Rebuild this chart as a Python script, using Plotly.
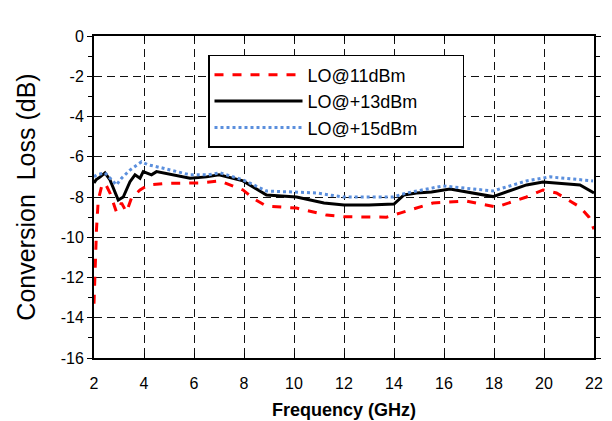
import plotly.graph_objects as go

# LO@11dBm (red dashed)
freq_11 = [2.0, 2.05, 2.1, 2.17, 2.3, 2.44, 2.64, 2.9, 3.1, 3.3, 3.5, 3.84, 4.17, 4.9, 5.5,
           6.24, 7.04, 7.96, 8.4, 8.9, 10.1, 11.3, 12.0, 13.7, 14.24, 14.9, 15.56, 16.9,
           18.1, 19.3, 19.96, 20.5, 21.44, 21.8, 22.0]
loss_11 = [-13.3, -11.0, -9.6, -8.15, -7.5, -7.3, -7.8, -8.75, -8.3, -8.75, -8.05, -7.65, -7.4,
           -7.32, -7.3, -7.3, -7.2, -7.65, -8.1, -8.45, -8.55, -8.9, -8.98, -9.0, -8.8, -8.55,
           -8.3, -8.2, -8.5, -8.0, -7.65, -7.8, -8.5, -9.0, -9.6]

# LO@+13dBm (black solid)
freq_13 = [2.0, 2.08, 2.25, 2.44, 2.64, 2.97, 3.17, 3.44, 3.64, 3.84, 3.97, 4.3, 4.5, 5.17,
           5.84, 6.5, 7.0, 7.96, 8.9, 10.1, 11.2, 12.0, 13.0, 14.0, 14.4, 14.9, 15.5, 16.24,
           17.96, 19.3, 19.96, 21.44, 22.0]
loss_13 = [-7.3, -7.15, -7.0, -6.8, -7.15, -8.15, -8.0, -7.24, -6.9, -7.07, -6.74, -6.9, -6.74,
           -6.9, -7.07, -7.0, -6.9, -7.2, -7.9, -8.0, -8.3, -8.4, -8.4, -8.35, -7.9, -7.8,
           -7.75, -7.6, -7.98, -7.4, -7.25, -7.4, -7.8]

# LO@+15dBm (blue dotted)
freq_15 = [2.0, 2.1, 2.44, 2.9, 3.1, 3.44, 3.9, 4.17, 4.77, 5.84, 6.56, 7.04, 7.96, 8.9,
           10.9, 11.96, 13.96, 14.5, 15.96, 17.96, 19.3, 20.24, 21.96]
loss_15 = [-7.0, -6.9, -6.8, -7.4, -7.07, -6.66, -6.25, -6.4, -6.57, -6.9, -6.9, -6.8, -7.15,
           -7.7, -7.8, -8.0, -8.0, -7.8, -7.45, -7.7, -7.2, -7.0, -7.2]

series_names = ["LO@11dBm", "LO@+13dBm", "LO@+15dBm"]
x_ticks = [2, 4, 6, 8, 10, 12, 14, 16, 18, 20, 22]
y_ticks = [0, -2, -4, -6, -8, -10, -12, -14, -16]

FONT = "Liberation Sans, Arial"
# invisible trailing spacer so the legend box is as wide as in the original
PAD = '<span style="color:rgba(0,0,0,0)">........</span>'

fig = go.Figure()
fig.add_trace(go.Scatter(x=freq_11, y=loss_11, mode="lines", name=series_names[0] + PAD,
                         hovertemplate="%{x}, %{y}<extra>" + series_names[0] + "</extra>",
                         line=dict(color="#ff0000", width=3, dash="dash")))
fig.add_trace(go.Scatter(x=freq_13, y=loss_13, mode="lines", name=series_names[1] + PAD,
                         hovertemplate="%{x}, %{y}<extra>" + series_names[1] + "</extra>",
                         line=dict(color="#000000", width=3)))
fig.add_trace(go.Scatter(x=freq_15, y=loss_15, mode="lines", name=series_names[2] + PAD,
                         hovertemplate="%{x}, %{y}<extra>" + series_names[2] + "</extra>",
                         line=dict(color="#5b8fdd", width=3, dash="dot")))

axis_common = dict(showline=True, linecolor="black", linewidth=2, mirror="ticks",
                   showgrid=True, gridcolor="#111111", gridwidth=1.3, griddash="8px,5px",
                   zeroline=False, tickfont=dict(family=FONT, size=16, color="black"),
                   tickcolor="black", automargin=False)

fig.update_xaxes(range=[2, 22], tickvals=x_ticks, ticktext=[str(v) for v in x_ticks],
                 ticks="inside", ticklen=5, ticklabelstandoff=10,
                 title=dict(text="<b>Frequency (GHz)</b>", font=dict(family=FONT, size=18, color="black"), standoff=12),
                 **axis_common)
fig.update_yaxes(range=[-16, 0], tickvals=y_ticks, ticktext=[str(v) for v in y_ticks],
                 ticks="outside", ticklen=5,
                 minor=dict(dtick=1, ticks="outside", ticklen=4, tickcolor="black", showgrid=False),
                 title=dict(text="Conversion  Loss (dB)", font=dict(family=FONT, size=25, color="black"), standoff=18),
                 **axis_common)

fig.update_layout(
    width=612, height=421,
    margin=dict(l=94, r=18, t=36, b=63),
    paper_bgcolor="white", plot_bgcolor="white",
    showlegend=True,
    legend=dict(x=0.228, y=0.941, xanchor="left", yanchor="top",
                bgcolor="white", bordercolor="black", borderwidth=1.5,
                font=dict(family=FONT, size=18, color="black"),
                itemwidth=88, tracegroupgap=0),
)

fig.write_html("out.html")
